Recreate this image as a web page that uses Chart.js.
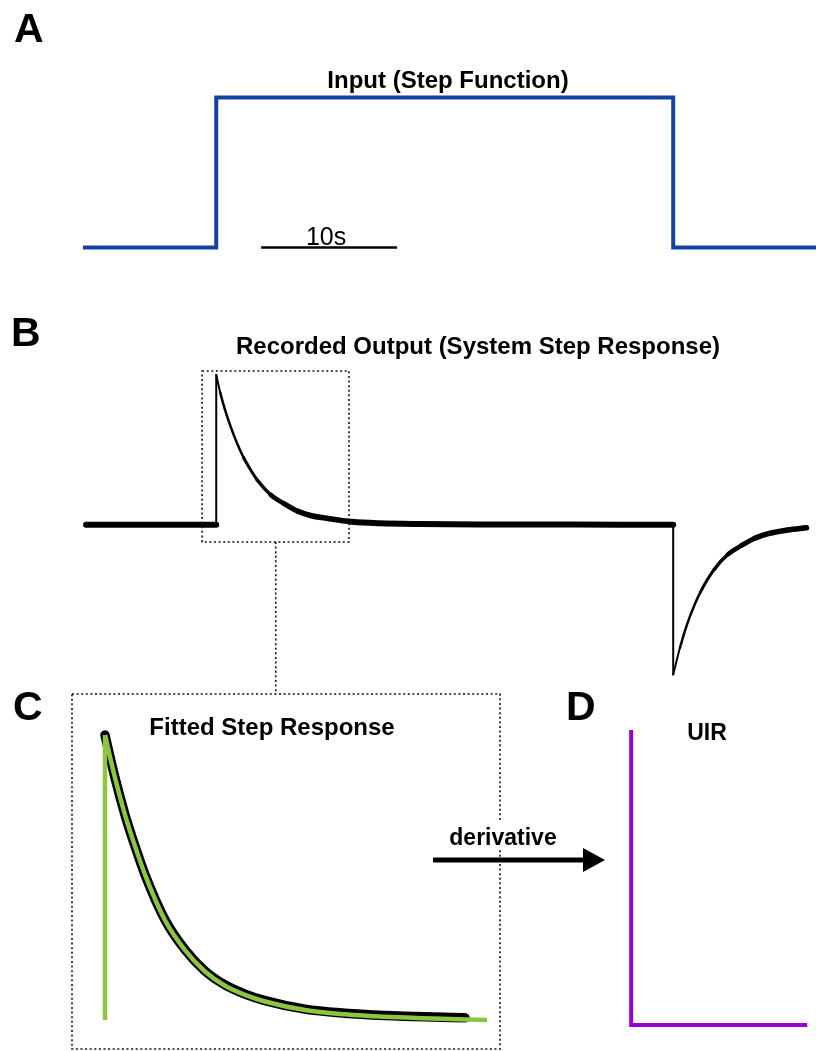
<!DOCTYPE html>
<html>
<head>
<meta charset="utf-8">
<script src="https://cdn.jsdelivr.net/npm/chart.js@4.4.0/dist/chart.umd.min.js"></script>
<style>
  html, body { margin: 0; padding: 0; background: #fff; }
  #fig { position: relative; width: 816px; height: 1051px; overflow: hidden; background: #fff; }
  #fig canvas { position: absolute; }
</style>
</head>
<body>
<div id="fig">
  <canvas id="chartA" width="816" height="300" style="left:0;top:0"></canvas>
  <canvas id="chartB" width="816" height="394" style="left:0;top:300px"></canvas>
  <canvas id="chartC" width="502" height="371" style="left:0;top:680px"></canvas>
  <canvas id="chartD" width="396" height="371" style="left:420px;top:680px"></canvas>
</div>
<script>
// A: input step (time in s, normalised level)
const stepTime = [-9.8, 0, 0, 33.6, 33.6, 44.1];
const stepLevel = [0, 0, 1, 1, 0, 0];
const scaleBarTime = [3.3, 13.3];
const scaleBarLabel = '10s';

// B: recorded output
const responseTime = [-9.57, 0, 0, 0.3, 0.6, 1.0, 1.5, 2.0, 2.5, 3.0, 4, 5, 6, 7, 8, 10, 12, 15, 20, 25,
                      30, 33.6, 33.6, 34.1, 34.6, 35.1, 35.6, 36.6, 37.6, 38.6, 39.6, 40.6, 42.0, 43.4];
const responseLevel = [0, 0, 1.0, 0.88, 0.78, 0.67, 0.55, 0.45, 0.37, 0.30, 0.20, 0.14, 0.09, 0.06, 0.045, 0.02, 0.01, 0.005, 0.002, 0.001,
                       0, 0, -1.0, -0.82, -0.67, -0.55, -0.45, -0.30, -0.20, -0.14, -0.09, -0.06, -0.035, -0.02];
const zoomBoxTime = [-1.04, 9.76];
const zoomBoxLevel = [-0.115, 1.026];
const zoomLinkTime = 4.375;

// C: zoomed recorded piece and the fitted step response
const recordedTime = [0, 0.25, 0.5, 0.75, 1.0, 1.5, 2.0, 2.5, 3.0, 3.5, 4.0, 5.0, 6.0, 7.0, 8.0, 9.0];
const recordedLevel = [1.0, 0.85, 0.72, 0.61, 0.51, 0.352, 0.247, 0.172, 0.123, 0.091, 0.068, 0.038, 0.024, 0.016, 0.011, 0.008];
const fitTime = [0, 0, 0.25, 0.5, 0.75, 1.0, 1.5, 2.0, 2.5, 3.0, 3.5, 4.0, 5.0, 6.0, 7.0, 8.0, 9.55];
const fitLevel = [0, 1.0, 0.85, 0.72, 0.61, 0.51, 0.35, 0.245, 0.17, 0.12, 0.088, 0.065, 0.035, 0.02, 0.011, 0.006, 0];
const zoomFrameTime = [-0.825, 9.875];
const zoomFrameLevel = [-0.102, 1.144];

// D: unit impulse response
const uirTime = [0, 0, 10];
const uirLevel = [1, 0, 0];

const FONT = "'Liberation Sans', Arial, Helvetica, sans-serif";
const BLUE = '#14409e';
const GREEN = '#8cc63f';
const PURPLE = '#9600d0';

const toPoints = (ts, vs) => ts.map((t, i) => ({ x: t, y: vs[i] }));

// split a trace at vertical jumps (repeated time) so smooth parts can use monotone curves
const splitPieces = (ts, vs) => {
    const pts = toPoints(ts, vs);
    const out = [];
    let cur = [pts[0]];
    for (let i = 1; i < pts.length; i++) {
        if (ts[i] === ts[i - 1]) {
            if (cur.length > 1) out.push({ pts: cur, smooth: true });
            out.push({ pts: [pts[i - 1], pts[i]], smooth: false });
            cur = [pts[i]];
        } else {
            cur.push(pts[i]);
        }
    }
    if (cur.length > 1) out.push({ pts: cur, smooth: true });
    return out;
};

// thin where the trace is steep, thick where it is flat (rounded so flat runs merge into one path)
const slopeWidth = (thin, thick) => (ctx) => {
    const dx = Math.abs(ctx.p1.x - ctx.p0.x);
    const dy = Math.abs(ctx.p1.y - ctx.p0.y);
    const s = dx < 1e-6 ? 1e6 : dy / dx;
    const w = thin + (thick - thin) / (1 + s * s);
    return Math.round(w * 2) / 2;
};

const pieceDatasets = (ts, vs, style) => splitPieces(ts, vs).map(p => ({
    data: p.pts,
    cubicInterpolationMode: p.smooth ? 'monotone' : 'default',
    tension: 0,
    pointRadius: 0,
    clip: false,
    ...style
}));

const baseOptions = (xMin, xMax, yMin, yMax) => ({
    responsive: false,
    animation: false,
    events: [],
    layout: { padding: 0, autoPadding: false },
    plugins: { legend: { display: false }, tooltip: { enabled: false }, title: { display: false } },
    scales: {
        x: { type: 'linear', display: false, min: xMin, max: xMax },
        y: { type: 'linear', display: false, min: yMin, max: yMax }
    }
});

const text = (ctx, str, x, y, font, align = 'center') => {
    ctx.save();
    ctx.font = font;
    ctx.fillStyle = '#000';
    ctx.textAlign = align;
    ctx.textBaseline = 'alphabetic';
    ctx.fillText(str, x, y);
    ctx.restore();
};

const dotted = (ctx) => {
    ctx.strokeStyle = '#111';
    ctx.lineWidth = 1.6;
    ctx.setLineDash([2, 2.6]);
};

// A
new Chart(document.getElementById('chartA'), {
    type: 'line',
    data: {
        datasets: [
            { data: toPoints(stepTime, stepLevel), borderColor: BLUE, borderWidth: 4, borderJoinStyle: 'miter', pointRadius: 0, clip: false },
            { data: toPoints(scaleBarTime, [0, 0]), borderColor: '#000', borderWidth: 2.5, pointRadius: 0, clip: false }
        ]
    },
    options: baseOptions(-15.9, 44.1, -0.35, 1.65),
    plugins: [{
        id: 'annA',
        afterDatasetsDraw(chart) {
            const { ctx, scales: { x, y } } = chart;
            text(ctx, 'A', 14, 42, `bold 41px ${FONT}`, 'left');
            text(ctx, 'Input (Step Function)', 448, 88, `bold 24px ${FONT}`);
            const cx = (x.getPixelForValue(scaleBarTime[0]) + x.getPixelForValue(scaleBarTime[1])) / 2;
            text(ctx, scaleBarLabel, cx - 3, y.getPixelForValue(0) - 3, `25px ${FONT}`);
        }
    }]
});

// B
new Chart(document.getElementById('chartB'), {
    type: 'line',
    data: {
        datasets: pieceDatasets(responseTime, responseLevel, {
            borderColor: '#000',
            borderCapStyle: 'round',
            borderWidth: 5.5,
            segment: { borderWidth: slopeWidth(2, 5.8) }
        })
    },
    options: baseOptions(-15.9, 44.1, -1.13, 1.5),
    plugins: [{
        id: 'annB',
        afterDatasetsDraw(chart) {
            const { ctx, scales: { x, y }, chartArea } = chart;
            text(ctx, 'B', 11, 46, `bold 41px ${FONT}`, 'left');
            text(ctx, 'Recorded Output (System Step Response)', 478, 54, `bold 24px ${FONT}`);
            const l = x.getPixelForValue(zoomBoxTime[0]);
            const r = x.getPixelForValue(zoomBoxTime[1]);
            const t = y.getPixelForValue(zoomBoxLevel[1]);
            const b = y.getPixelForValue(zoomBoxLevel[0]);
            ctx.save();
            dotted(ctx);
            ctx.strokeRect(l, t, r - l, b - t);
            const lx = x.getPixelForValue(zoomLinkTime);
            ctx.beginPath();
            ctx.moveTo(lx, b);
            ctx.lineTo(lx, chartArea.bottom);
            ctx.stroke();
            ctx.restore();
        }
    }]
});

// C
new Chart(document.getElementById('chartC'), {
    type: 'line',
    data: {
        datasets: [
            ...pieceDatasets(fitTime, fitLevel, { borderColor: GREEN, borderWidth: 4.5, order: 0 }),
            ...pieceDatasets(recordedTime, recordedLevel, { borderColor: '#000', borderWidth: 9.5, borderCapStyle: 'round', order: 1 })
        ]
    },
    options: baseOptions(-2.625, 9.925, -0.1088, 1.193),
    plugins: [{
        id: 'annC',
        beforeDatasetsDraw(chart) {
            const { ctx, scales: { x, y } } = chart;
            const l = x.getPixelForValue(zoomFrameTime[0]);
            const r = x.getPixelForValue(zoomFrameTime[1]);
            const t = y.getPixelForValue(zoomFrameLevel[1]);
            const b = y.getPixelForValue(zoomFrameLevel[0]);
            ctx.save();
            dotted(ctx);
            ctx.strokeRect(l, t, r - l, b - t);
            ctx.restore();
        },
        afterDatasetsDraw(chart) {
            const { ctx } = chart;
            text(ctx, 'C', 13, 40, `bold 41px ${FONT}`, 'left');
            text(ctx, 'Fitted Step Response', 272, 55, `bold 24px ${FONT}`);
        }
    }]
});

// D
new Chart(document.getElementById('chartD'), {
    type: 'line',
    data: {
        datasets: [
            { data: toPoints(uirTime, uirLevel), borderColor: PURPLE, borderWidth: 4, borderJoinStyle: 'miter', pointRadius: 0, clip: false }
        ]
    },
    options: baseOptions(-12, 10.5, -0.0881, 1.1695),
    plugins: [{
        id: 'annD',
        afterDatasetsDraw(chart) {
            const { ctx } = chart;
            text(ctx, 'D', 146, 40, `bold 41px ${FONT}`, 'left');
            text(ctx, 'UIR', 287, 60, `bold 23px ${FONT}`);
            // derivative label with a white backing over the dotted frame
            ctx.save();
            ctx.fillStyle = '#fff';
            ctx.fillRect(28, 141, 110, 28);
            ctx.restore();
            text(ctx, 'derivative', 83, 165, `bold 23px ${FONT}`);
            ctx.save();
            ctx.fillStyle = '#000';
            ctx.fillRect(13, 177.5, 152, 5);
            ctx.beginPath();
            ctx.moveTo(163, 168);
            ctx.lineTo(185, 180);
            ctx.lineTo(163, 192);
            ctx.closePath();
            ctx.fill();
            ctx.restore();
        }
    }]
});
</script>
</body>
</html>
